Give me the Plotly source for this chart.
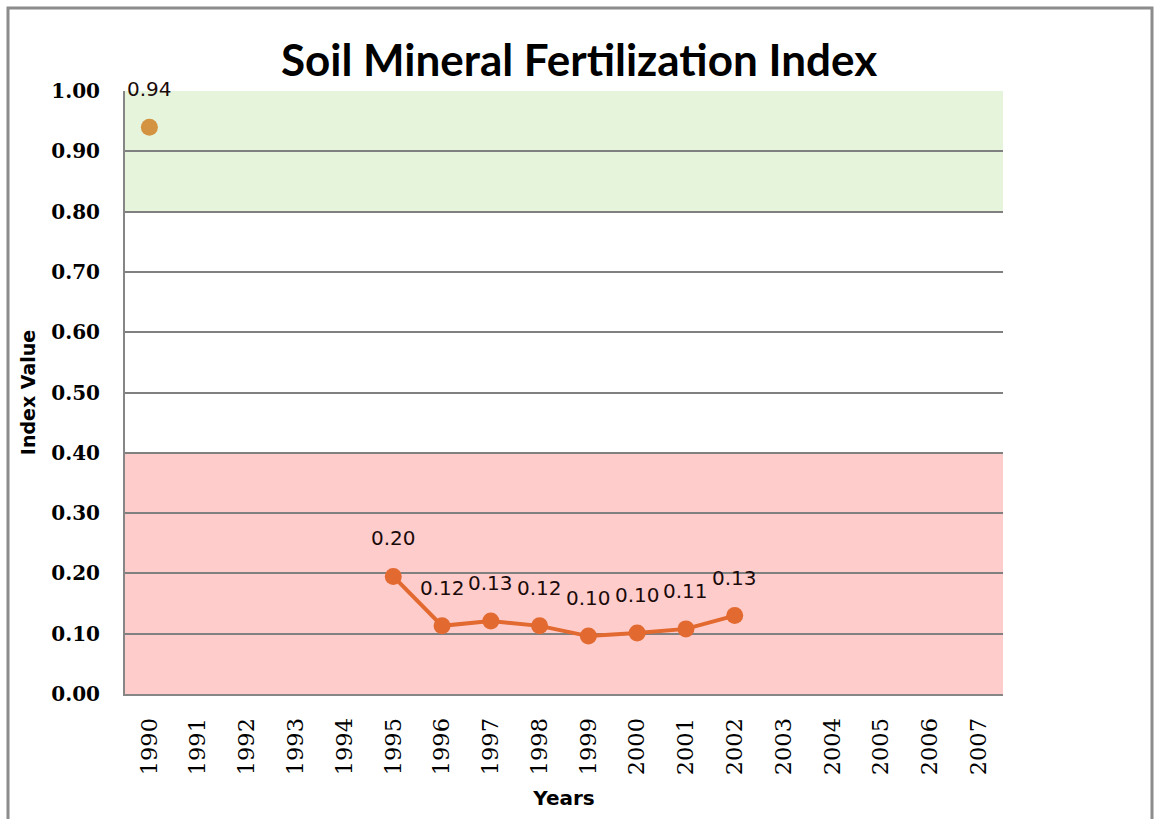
import plotly.graph_objects as go

years = [str(y) for y in range(1990, 2008)]

first_year = ["1990"]
first_value = [0.94]
first_label = ["0.94"]

series_years = ["1995", "1996", "1997", "1998", "1999", "2000", "2001", "2002"]
series_values = [0.195, 0.113, 0.121, 0.113, 0.096, 0.101, 0.108, 0.130]
series_labels = ["0.20", "0.12", "0.13", "0.12", "0.10", "0.10", "0.11", "0.13"]

W, H = 1155, 819
L, T = 125, 91
R, B = W - 1003, H - 694
pw, ph = W - L - R, H - T - B

fig = go.Figure()

fig.add_trace(go.Scatter(
    x=series_years, y=series_values, mode="lines+markers",
    line=dict(color="#E2692F", width=4),
    marker=dict(color="#E2692F", size=17),
    hoverinfo="x+y", showlegend=False,
))
fig.add_trace(go.Scatter(
    x=first_year, y=first_value, mode="markers",
    marker=dict(color="#D39340", size=17),
    hoverinfo="x+y", showlegend=False,
))

# data labels above each point (category index, so "1990" is not read as a number)
for xs, vs, ls in [(first_year, first_value, first_label),
                   (series_years, series_values, series_labels)]:
    for x, v, t in zip(xs, vs, ls):
        fig.add_annotation(x=years.index(x), y=v, text=t, showarrow=False, yshift=38,
                           font=dict(family="DejaVu Sans", size=20, color="#1a0a0a"))

# coloured bands
fig.add_shape(type="rect", xref="paper", yref="y", x0=0, x1=1, y0=0.8, y1=1.0,
              fillcolor="rgb(155,211,115)", opacity=0.25, line_width=0, layer="between")
fig.add_shape(type="rect", xref="paper", yref="y", x0=0, x1=1, y0=0.0, y1=0.4,
              fillcolor="rgb(255,52,52)", opacity=0.25, line_width=0, layer="between")

# outer chart frame
fig.add_shape(type="rect", xref="paper", yref="paper",
              x0=(8 - L) / pw, x1=(1152 - L) / pw,
              y0=(T + ph - 840) / ph, y1=(T + ph - 8) / ph,
              line=dict(color="#8C8C8C", width=3), fillcolor="rgba(0,0,0,0)")

fig.update_layout(
    width=W, height=H,
    margin=dict(l=L, r=R, t=T, b=B),
    paper_bgcolor="white", plot_bgcolor="white",
    title=dict(text="<b>Soil Mineral Fertilization Index</b>", x=579 / W,
               xanchor="center", y=1 - 61 / H, yanchor="middle",
               font=dict(family="Lato", size=44, color="black")),
    xaxis=dict(
        type="category", categoryorder="array", categoryarray=years,
        range=[-0.5, len(years) - 0.5],
        tickvals=years, ticktext=years, tickangle=-90,
        tickfont=dict(family="DejaVu Serif", size=22.5, color="black"),
        ticklabelstandoff=13,
        showgrid=False, showline=True, linecolor="#868686", linewidth=2,
        ticks="", zeroline=False,
        title=dict(text="<b>Years</b>", standoff=17,
                   font=dict(family="DejaVu Sans", size=20, color="black")),
    ),
    yaxis=dict(
        range=[0, 1.0], tickvals=[i / 10 for i in range(11)], tickformat=".2f",
        tickfont=dict(family="DejaVu Serif", size=20, color="black", weight="bold"),
        ticklabelstandoff=19,
        showgrid=True, gridcolor="#808080", gridwidth=1.5,
        showline=True, linecolor="#868686", linewidth=2,
        ticks="", zeroline=False,
        title=dict(text="<b>Index Value</b>", standoff=11,
                   font=dict(family="DejaVu Sans", size=19, color="black")),
    ),
)

fig.write_html("out.html", config={"displayModeBar": False},
               post_script="document.body.style.margin = '0';")
